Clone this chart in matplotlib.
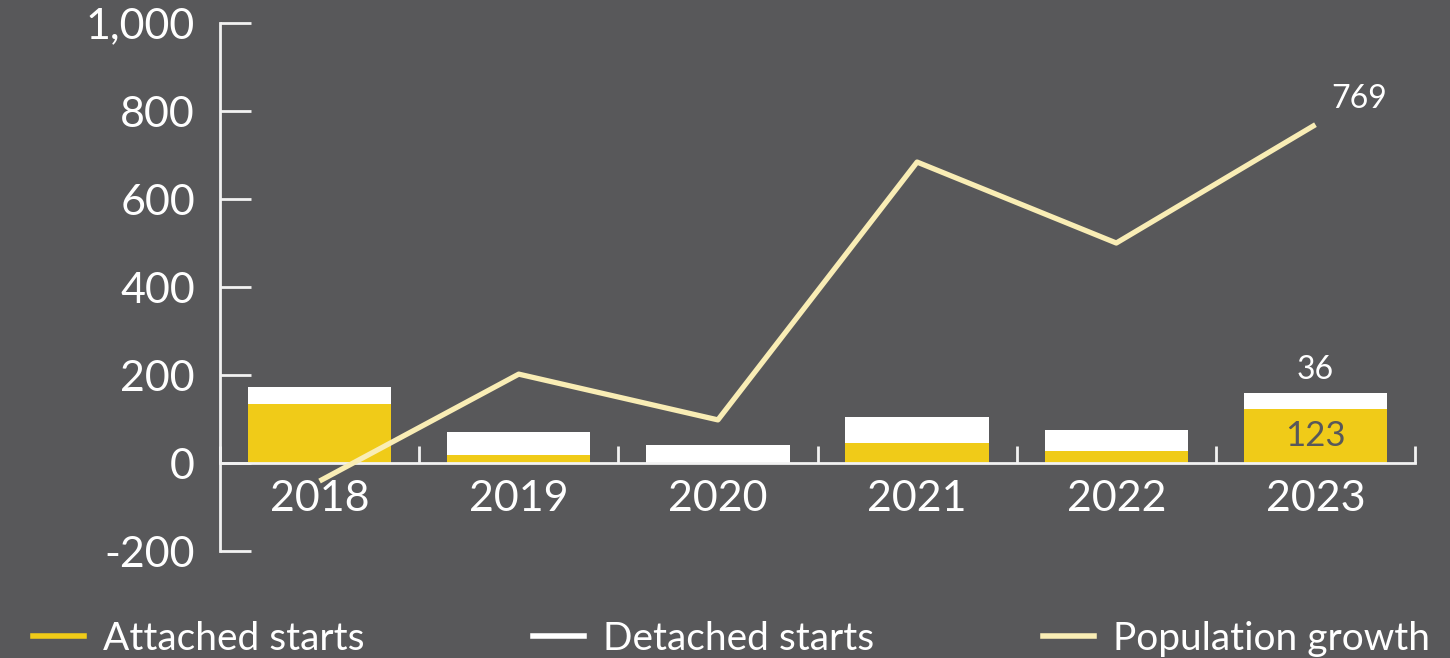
import matplotlib
matplotlib.use("Agg")
import matplotlib.pyplot as plt
from matplotlib.lines import Line2D
import numpy as np

plt.rcParams['font.family'] = ['Lato', 'DejaVu Sans']

# housing starts vs population growth
years = ['2018', '2019', '2020', '2021', '2022', '2023']
attached = [134, 18, 0, 45, 27, 123]
detached = [39, 52, 41, 60, 48, 36]
population = [-41, 202, 98, 684, 500, 769]

bg = '#58585a'
yellow = '#f0cb18'
white = '#ffffff'
pale = '#f9edb5'
axis_col = '#f2f2f2'

fig = plt.figure(figsize=(14.5, 6.58), dpi=100, facecolor=bg)
ax = fig.add_axes([0.1517, 0.1626, 0.8242, 0.8024])
ax.set_facecolor(bg)

x = np.arange(len(years))
ax.bar(x, attached, width=0.72, color=yellow, zorder=2)
ax.bar(x, detached, width=0.72, bottom=attached, color=white, zorder=2)
ax.plot(x, population, color=pale, lw=3.8, zorder=3, solid_capstyle='butt')

ax.set_xlim(-0.5, 5.5)
ax.set_ylim(-200, 1000)

for s in ['top', 'right']:
    ax.spines[s].set_visible(False)
ax.spines['bottom'].set_position(('data', 0))
ax.spines['left'].set_bounds(-200, 1000)
for s in ['left', 'bottom']:
    ax.spines[s].set_color(axis_col)
    ax.spines[s].set_linewidth(2)

ax.set_yticks(range(-200, 1001, 200))
ax.set_yticklabels([f'{v:,}' for v in range(-200, 1001, 200)])
ax.tick_params(axis='y', direction='in', length=22, width=2, color=axis_col,
               labelcolor=white, labelsize=31, pad=18)

ax.set_xticks(x)
ax.set_xticklabels(years)
ax.set_xticks(np.arange(-0.5, 6, 1), minor=True)
ax.tick_params(axis='x', which='major', length=0, labelcolor=white, labelsize=31, pad=12)
ax.tick_params(axis='x', which='minor', direction='in', length=12, width=2, color=axis_col)

ax.text(5.08, 769 + 25, '769', color=white, fontsize=23, ha='left', va='bottom')
ax.text(5, attached[5] + detached[5] + 18, str(detached[5]), color=white, fontsize=23,
        ha='center', va='bottom')
ax.text(5, attached[5] / 2, str(attached[5]), color=bg, fontsize=25, ha='center', va='center')

handles = [Line2D([], [], color=yellow, lw=4),
           Line2D([], [], color=white, lw=4),
           Line2D([], [], color=pale, lw=4)]
labels = ['Attached starts', 'Detached starts', 'Population growth']
leg = fig.legend(handles, labels, loc='lower left', ncol=3, mode='expand',
                 bbox_to_anchor=(0.012, -0.022, 0.985, 0.07), frameon=False,
                 fontsize=28, handlelength=1.3, handletextpad=0.5, labelcolor=white,
                 borderaxespad=0)

fig.savefig('out.png', dpi=100, facecolor=bg)
